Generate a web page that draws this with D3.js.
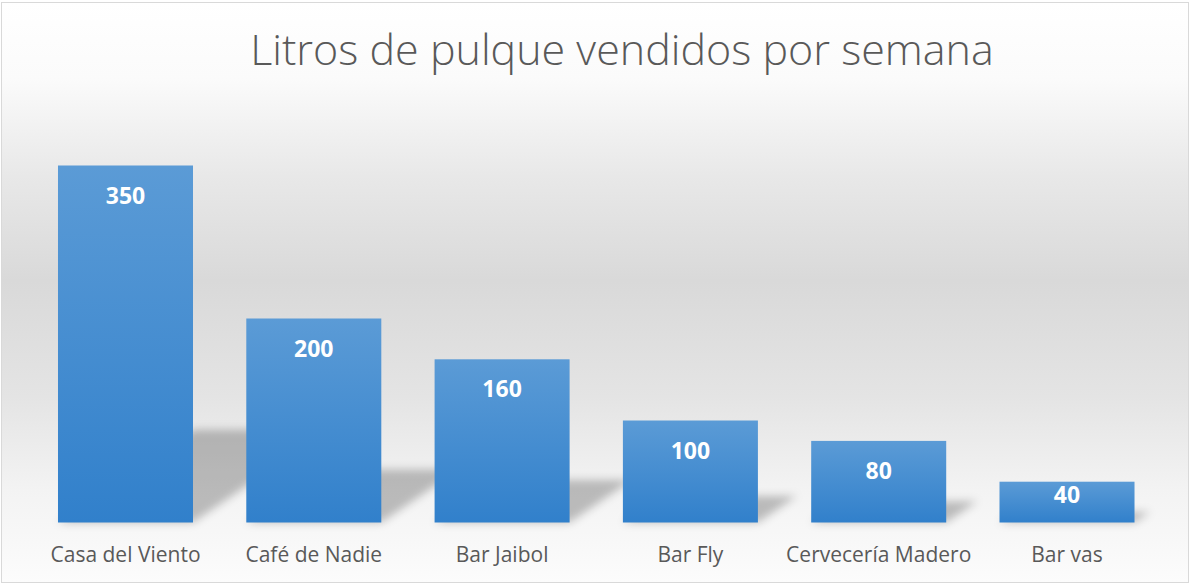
<!DOCTYPE html>
<html>
<head>
<meta charset="utf-8">
<script src="https://cdn.jsdelivr.net/npm/d3@7"></script>
<style>
  body { margin: 0; background: #fff; }
</style>
</head>
<body>
<script>
// litros por semana, por bar
const categories = ["Casa del Viento", "Café de Nadie", "Bar Jaibol", "Bar Fly", "Cervecería Madero", "Bar vas"];
const values = [350, 200, 160, 100, 80, 40];
const title = "Litros de pulque vendidos por semana";

const W = 1191, H = 584;

const svg = d3.select("body").append("svg")
  .attr("width", W)
  .attr("height", H);

const defs = svg.append("defs");

const bg = defs.append("linearGradient")
  .attr("id", "bg")
  .attr("x1", 0).attr("y1", 0).attr("x2", 0).attr("y2", 1);
[[0, "#ffffff"], [0.13, "#fbfbfb"], [0.3, "#e8e8e8"], [0.48, "#d9d9d9"], [0.68, "#e4e4e4"],
 [0.84, "#f3f3f3"], [1, "#fcfcfc"]].forEach(s => {
  bg.append("stop").attr("offset", s[0]).attr("stop-color", s[1]);
});

const barGrad = defs.append("linearGradient")
  .attr("id", "bar")
  .attr("x1", 0).attr("y1", 0).attr("x2", 0).attr("y2", 1);
barGrad.append("stop").attr("offset", 0).attr("stop-color", "#5b9bd6");
barGrad.append("stop").attr("offset", 1).attr("stop-color", "#3180cb");

defs.append("filter")
  .attr("id", "blur")
  .attr("x", "-50%").attr("y", "-50%").attr("width", "200%").attr("height", "200%")
  .append("feGaussianBlur")
  .attr("stdDeviation", 4);

// chart area
svg.append("rect")
  .attr("x", 1.5)
  .attr("y", 2.5)
  .attr("width", 1187)
  .attr("height", 580)
  .attr("fill", "url(#bg)")
  .attr("stroke", "#d9d9d9")
  .attr("stroke-width", 1);

const x = d3.scaleBand()
  .domain(categories)
  .range([4.7, 1187.8])
  .padding(0.283);

const y = d3.scaleLinear()
  .domain([0, 400])
  .range([522.5, 114.5]);

const base = y(0);

// perspective shadows behind the bars
svg.append("g")
  .attr("filter", "url(#blur)")
  .selectAll("path")
  .data(values)
  .join("path")
  .attr("fill", "#000")
  .attr("fill-opacity", 0.24)
  .attr("d", (d, i) => {
    const x0 = x(categories[i]), x1 = x0 + x.bandwidth();
    const h = base - y(d);
    const dx = h * 0.38, dy = h * 0.26;
    return `M${x0},${base}L${x1},${base}L${x1 + dx},${base - dy}L${x0 + dx},${base - dy}Z`;
  });

svg.append("g")
  .selectAll("rect")
  .data(values)
  .join("rect")
  .attr("x", (d, i) => x(categories[i]))
  .attr("y", d => y(d))
  .attr("width", x.bandwidth())
  .attr("height", d => base - y(d))
  .attr("fill", "url(#bar)");

svg.append("g")
  .selectAll("text")
  .data(values)
  .join("text")
  .attr("x", (d, i) => x(categories[i]) + x.bandwidth() / 2)
  .attr("y", d => Math.min(y(d) + 38, base - 20))
  .attr("text-anchor", "middle")
  .attr("font-family", "'Open Sans', sans-serif")
  .attr("font-weight", "bold")
  .attr("font-size", "23px")
  .attr("fill", "#ffffff")
  .text(d => d);

const xAxis = svg.append("g")
  .attr("transform", `translate(0,${base})`)
  .call(d3.axisBottom(x).tickSize(0).tickPadding(0));
xAxis.select(".domain").remove();
xAxis.selectAll("text")
  .attr("dy", 0)
  .attr("y", 39)
  .attr("font-family", "'Open Sans', sans-serif")
  .attr("font-size", "21px")
  .attr("fill", "#595959");

svg.append("text")
  .attr("x", 622)
  .attr("y", 65)
  .attr("text-anchor", "middle")
  .attr("font-family", "'Open Sans', sans-serif")
  .attr("font-weight", 300)
  .attr("font-size", "43px")
  .attr("fill", "#595959")
  .text(title);
</script>
</body>
</html>
